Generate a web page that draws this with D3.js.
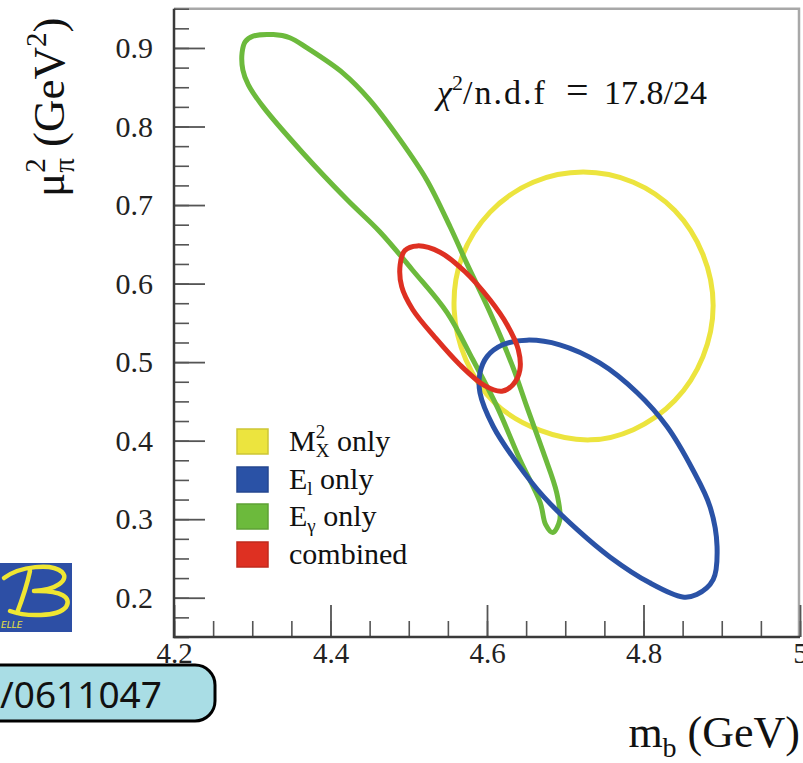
<!DOCTYPE html>
<html><head><meta charset="utf-8">
<script src="https://cdn.jsdelivr.net/npm/d3@7"></script>
<style>body{margin:0;background:#fff;} svg{display:block;}</style>
</head><body>
<svg id="chart" width="803" height="763"></svg>
<script>
// ---- data ----
const xTickValues = [4.2, 4.4, 4.6, 4.8, 5.0];
const xTickLabels = ["4.2", "4.4", "4.6", "4.8", "5"];
const yTickValues = [0.2, 0.3, 0.4, 0.5, 0.6, 0.7, 0.8, 0.9];
const yTickLabels = ["0.2", "0.3", "0.4", "0.5", "0.6", "0.7", "0.8", "0.9"];
const seriesNames = ["Mx2", "El", "Egamma", "combined"];
const seriesColors = ["#ece43e", "#2a52a6", "#6cba3c", "#de3022"];

// contour points [m_b, mu_pi^2]
const mx2Contour = [[4.723,0.742],[4.787,0.729],[4.840,0.693],[4.876,0.637],[4.889,0.572],[4.876,0.507],[4.840,0.451],[4.787,0.414],[4.732,0.401],[4.668,0.413],[4.610,0.448],[4.573,0.503],[4.558,0.567],[4.568,0.634],[4.604,0.691],[4.659,0.729]];
const elContour = [[4.651,0.528],[4.693,0.522],[4.744,0.499],[4.792,0.461],[4.830,0.418],[4.863,0.363],[4.885,0.316],[4.894,0.265],[4.889,0.223],[4.868,0.204],[4.850,0.201],[4.808,0.219],[4.757,0.252],[4.715,0.287],[4.672,0.329],[4.638,0.372],[4.608,0.418],[4.591,0.461],[4.591,0.486],[4.600,0.507],[4.620,0.522]];
const egContour = [[4.301,0.915],[4.327,0.917],[4.348,0.913],[4.370,0.900],[4.416,0.868],[4.450,0.834],[4.489,0.783],[4.523,0.732],[4.553,0.672],[4.574,0.626],[4.604,0.563],[4.633,0.494],[4.651,0.443],[4.672,0.385],[4.689,0.334],[4.693,0.299],[4.684,0.283],[4.675,0.293],[4.668,0.321],[4.642,0.376],[4.613,0.443],[4.582,0.503],[4.549,0.563],[4.505,0.617],[4.463,0.666],[4.421,0.707],[4.365,0.766],[4.314,0.825],[4.295,0.853],[4.288,0.872],[4.287,0.894],[4.291,0.908]];
const combContour = [[4.511,0.648],[4.540,0.640],[4.572,0.615],[4.604,0.579],[4.626,0.547],[4.640,0.516],[4.642,0.490],[4.633,0.471],[4.619,0.463],[4.597,0.470],[4.565,0.497],[4.534,0.531],[4.505,0.567],[4.491,0.596],[4.489,0.624],[4.495,0.642]];

// ---- layout ----
const svg = d3.select("#chart");
const X0 = 174, X1 = 800, Y0 = 637, Y1 = 8.7;
const x = d3.scaleLinear().domain([4.2, 5.0]).range([X0, X1]);
const y = d3.scaleLinear().domain([0.15, 0.95]).range([Y0, Y1]);
const serif = "'Liberation Serif', 'Times New Roman', serif";

svg.append("rect").attr("width", 803).attr("height", 763).attr("fill", "#fff");

// frame top/right (grey)
svg.append("path").attr("d", `M${X0},${Y1}H${X1-1}V${Y0}`).attr("fill", "none").attr("stroke", "#a8a8a8").attr("stroke-width", 2.5);

// minor ticks
const yMinor = d3.range(0.15, 0.951, 0.025).map(v => +v.toFixed(3));
const xMinor = d3.range(4.2, 5.001, 0.05).map(v => +v.toFixed(3));
svg.append("g").attr("transform", `translate(${X0},0)`)
  .call(d3.axisLeft(y).tickValues(yMinor).tickSize(-15).tickFormat(""))
  .call(g => { g.select(".domain").remove(); g.selectAll("line").attr("stroke", "#555").attr("stroke-width", 1.6); });
svg.append("g").attr("transform", `translate(0,${Y0})`)
  .call(d3.axisBottom(x).tickValues(xMinor).tickSize(-16).tickFormat(""))
  .call(g => { g.select(".domain").remove(); g.selectAll("line").attr("stroke", "#555").attr("stroke-width", 1.6); });

// major ticks + labels
const yAx = svg.append("g").attr("transform", `translate(${X0},0)`)
  .call(d3.axisLeft(y).tickValues(yTickValues).tickSize(-31).tickPadding(21).tickFormat((d, i) => yTickLabels[i]));
yAx.select(".domain").remove();
yAx.selectAll("line").attr("stroke", "#555").attr("stroke-width", 1.8);
yAx.selectAll("text").attr("font-family", serif).attr("font-size", 30).attr("fill", "#222");

const xAx = svg.append("g").attr("transform", `translate(0,${Y0})`)
  .call(d3.axisBottom(x).tickValues(xTickValues).tickSize(-32).tickPadding(5).tickFormat((d, i) => xTickLabels[i]));
xAx.select(".domain").remove();
xAx.selectAll("line").attr("stroke", "#555").attr("stroke-width", 1.8);
xAx.selectAll("text").attr("font-family", serif).attr("font-size", 29).attr("fill", "#222");

// frame left/bottom (dark)
svg.append("path").attr("d", `M${X0},${Y1}V${Y0}H${X1}`).attr("fill", "none").attr("stroke", "#3a3a3a").attr("stroke-width", 2.5);

// contours
const line = d3.line().x(d => x(d[0])).y(d => y(d[1])).curve(d3.curveCatmullRomClosed.alpha(0.5));
const contours = [mx2Contour, egContour, elContour, combContour];
const contourColors = [seriesColors[0], seriesColors[2], seriesColors[1], seriesColors[3]];
svg.append("g").selectAll("path").data(contours).join("path")
  .attr("d", line).attr("fill", "none")
  .attr("stroke", (d, i) => contourColors[i]).attr("stroke-width", 5).attr("stroke-linejoin", "round");

// chi2 text
const chi = svg.append("text").attr("font-family", serif).attr("font-size", 34).attr("fill", "#111").attr("y", 104);
chi.append("tspan").attr("x", 437).attr("font-style", "italic").text("χ");
chi.append("tspan").attr("font-size", 22).attr("dy", -14).text("2");
chi.append("tspan").attr("dy", 14).attr("letter-spacing", 2).text("/n.d.f");
chi.append("tspan").attr("x", 566).attr("font-size", 40).text("=");
chi.append("tspan").attr("x", 604).text("17.8/24");

// legend
const legY = [429, 467, 504, 542];
const leg = svg.append("g");
leg.selectAll("rect").data(seriesNames).join("rect")
  .attr("x", 237).attr("y", (d, i) => legY[i]).attr("width", 31).attr("height", 25)
  .attr("fill", (d, i) => seriesColors[i]).attr("stroke", (d, i) => d3.color(seriesColors[i]).darker(0.4)).attr("stroke-width", 1.5);
const lt = (i) => leg.append("text").attr("x", 289).attr("y", legY[i] + 22).attr("font-family", serif).attr("font-size", 30).attr("fill", "#111");
let t0 = lt(0);
t0.append("tspan").text("M");
t0.append("tspan").attr("font-size", 19).attr("dy", -13).text("2");
t0.append("tspan").attr("font-size", 19).attr("dx", -9.5).attr("dy", 19).text("X");
t0.append("tspan").attr("dy", -6).text(" only");
let t1 = lt(1);
t1.append("tspan").text("E");
t1.append("tspan").attr("font-size", 19).attr("dy", 6).text("l");
t1.append("tspan").attr("dy", -6).text(" only");
let t2 = lt(2);
t2.append("tspan").text("E");
t2.append("tspan").attr("font-size", 19).attr("dy", 6).text("γ");
t2.append("tspan").attr("dy", -6).text(" only");
lt(3).text("combined");

// axis titles
const yl = svg.append("text").attr("transform", "translate(64,197) rotate(-90)")
  .attr("font-family", serif).attr("font-size", 45).attr("fill", "#111");
yl.append("tspan").text("μ");
yl.append("tspan").attr("font-size", 29).attr("dy", -19).text("2");
yl.append("tspan").attr("font-size", 29).attr("dx", -14.5).attr("dy", 29).text("π");
yl.append("tspan").attr("dy", -10).text(" (GeV");
yl.append("tspan").attr("font-size", 29).attr("dy", -18).text("2");
yl.append("tspan").attr("dy", 18).text(")");

const xl = svg.append("text").attr("x", 800).attr("y", 747).attr("text-anchor", "end")
  .attr("font-family", serif).attr("font-size", 44).attr("fill", "#111");
xl.append("tspan").text("m");
xl.append("tspan").attr("font-size", 28).attr("dy", 10).text("b");
xl.append("tspan").attr("dy", -10).text(" (GeV)");

// Belle logo (cropped graphic)
const logo = svg.append("g");
logo.append("rect").attr("x", 0).attr("y", 563).attr("width", 72).attr("height", 69).attr("fill", "#2d4fa5");
logo.append("path")
  .attr("d", "M4,578 C20,566 52,563 62,572 C70,580 56,590 34,591 M34,591 C62,590 72,598 66,607 C58,617 26,617 10,611 M30,571 C27,585 22,600 17,613")
  .attr("fill", "none").attr("stroke", "#efe632").attr("stroke-width", 4.5).attr("stroke-linecap", "round");
logo.append("text").attr("x", 1).attr("y", 628).attr("font-family", "'DejaVu Sans', sans-serif").attr("font-style", "italic")
  .attr("font-size", 9).attr("fill", "#e8e040").text("ELLE");

// reference box (cropped)
svg.append("rect").attr("x", -40).attr("y", 665).attr("width", 255).attr("height", 56).attr("rx", 20)
  .attr("fill", "#a9dde5").attr("stroke", "#000").attr("stroke-width", 3);
svg.append("text").attr("x", 0).attr("y", 708).attr("font-family", "'Noto Sans', sans-serif").attr("font-size", 37)
  .attr("fill", "#111").text("/0611047");
</script>
</body></html>
